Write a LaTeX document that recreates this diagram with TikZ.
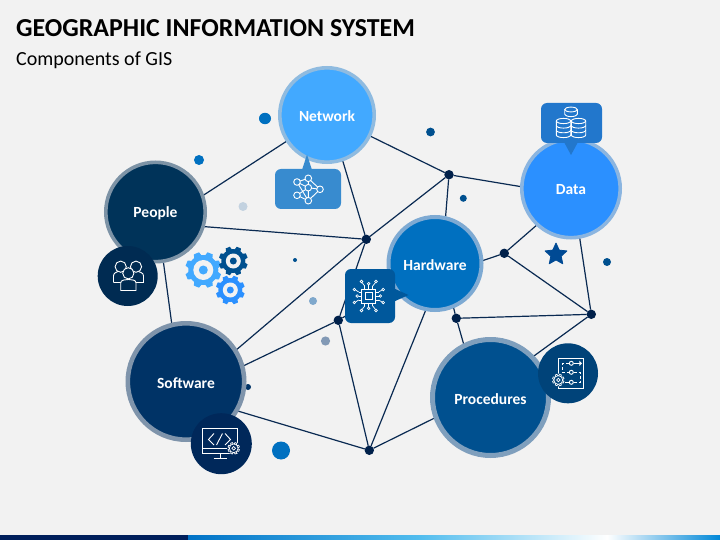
\documentclass[tikz,border=0pt]{standalone}
\usepackage{fontspec}
\setmainfont{Carlito}
\usetikzlibrary{shapes.geometric}
\pgfdeclarelayer{base}
\pgfdeclarelayer{edges}
\pgfsetlayers{base,edges,main}
\definecolor{pagebg}{HTML}{F2F2F2}
\definecolor{cNet}{HTML}{42A9FF}\definecolor{rNet}{HTML}{8FBBE0}
\definecolor{cPeo}{HTML}{003359}\definecolor{rPeo}{HTML}{7D93A6}
\definecolor{cDat}{HTML}{2B90FF}\definecolor{rDat}{HTML}{8BB5E0}
\definecolor{cHar}{HTML}{0070C0}\definecolor{rHar}{HTML}{7EAAD3}
\definecolor{cSof}{HTML}{003366}\definecolor{rSof}{HTML}{7F94AB}
\definecolor{cPro}{HTML}{00508F}\definecolor{rPro}{HTML}{7F9FBD}
\definecolor{iPeo}{HTML}{002B52}\definecolor{iSof}{HTML}{00285A}\definecolor{iPro}{HTML}{004379}
\definecolor{kNet}{HTML}{388BCF}\definecolor{kHar}{HTML}{00589C}\definecolor{kDat}{HTML}{2277CC}
\definecolor{wire}{HTML}{0A2A52}\definecolor{junc}{HTML}{00204A}
\definecolor{barnavy}{HTML}{001F5B}\definecolor{barA}{HTML}{0072C6}\definecolor{barB}{HTML}{52BDEE}\definecolor{barC}{HTML}{0088D8}
\definecolor{dotblue}{HTML}{0070C0}\definecolor{dotpale}{HTML}{C3D2E0}\definecolor{dotmid}{HTML}{7FA8CC}\definecolor{dotgrey}{HTML}{8299B5}
\definecolor{dotdeep}{HTML}{00508F}\definecolor{starblue}{HTML}{004A94}
\newcommand{\gearat}[6]{% x,y,outer,root,halfwidth,colour
  \begin{scope}[shift={(#1,#2)}]
    \fill[#6] (0,0) circle[radius=#4];
    \foreach \a in {0,45,...,315}
      \fill[#6,rotate=\a+22.5] (-#5,#4-1) -- (-#5*0.7,#3) -- (#5*0.7,#3) -- (#5,#4-1) -- cycle;
  \end{scope}}
\newcommand{\smallgear}[3]{% x,y,background
  \begin{scope}[shift={(#1,#2)}]
    \fill[#3] (0,0) circle[radius=6.5];
    \foreach \a in {0,45,...,315}
      \draw[iconline,line width=0.7pt,rotate=\a+22.5] (-1.2,4.2) -- (-0.9,5.8) -- (0.9,5.8) -- (1.2,4.2);
    \draw[iconline,line width=0.7pt] (0,0) circle[radius=4.4];
    \draw[iconline,line width=0.7pt] (0,0) circle[radius=1.8];
  \end{scope}}
\newcommand{\pin}[3]{% polyline end with pad
  \draw[iconline,line width=0.7pt] #1 -- #2;
  \draw[iconline,line width=0.7pt] #2 ++(#3) circle[radius=1.3];}
\newcommand{\hublabel}[1]{\raisebox{-1.2pt}[\height][\depth]{#1}}
\tikzset{
  x=1pt,y=-1pt,
  hub/.style={circle,inner sep=0pt,outer sep=0pt,text=white,font=\fontsize{15.5}{18}\selectfont\bfseries},
  junction/.style={circle,fill=junc,inner sep=0pt,outer sep=0pt,minimum size=9.4pt},
  wireline/.style={draw=wire,line width=1.2pt},
  iconline/.style={draw=white,line width=0.9pt},
  badge/.style={circle,inner sep=0pt,outer sep=0pt,minimum size=60pt},
  callout/.style={rectangle,rounded corners=6pt,inner sep=0pt,outer sep=0pt},
}
\begin{document}
\begin{tikzpicture}
\useasboundingbox (0,0) rectangle (720,540);
\begin{pgfonlayer}{base}
\fill[pagebg] (0,0) rectangle (720,540);
\fill[barnavy] (0,535) rectangle (188,540);
\shade[left color=barA,right color=barB] (188,535) rectangle (420,540);
\shade[left color=barB,right color=white] (420,535) rectangle (607,540);
\shade[left color=white,right color=barC] (607,535) rectangle (720,540);
\end{pgfonlayer}

\node[anchor=base west,inner sep=0pt,text=black,font=\fontsize{25.9}{30}\selectfont\bfseries] (title) at (16,36.7) {GEOGRAPHIC INFORMATION SYSTEM};
\node[anchor=base west,inner sep=0pt,text=black,font=\fontsize{20}{24}\selectfont] (subtitle) at (16,65.7) {Components of GIS};

% free dots
\fill[dotblue] (265,118.5) ellipse[x radius=6,y radius=5.7];
\fill[dotblue] (199,160) circle[radius=5];
\fill[dotpale] (243,206.5) circle[radius=4.5];
\fill[dotdeep] (295,260) circle[radius=2];
\fill[dotmid] (313,301) circle[radius=4];
\fill[dotgrey] (325.5,341) circle[radius=4.6];
\fill[cSof] (248,387) circle[radius=3];
\fill[dotblue] (281,450.5) circle[radius=9];
\fill[dotdeep] (430.5,132) circle[radius=4.4];
\fill[dotdeep] (463.3,198.3) circle[radius=3.5];
\fill[dotdeep] (607,262) circle[radius=4];
\node[star,star points=5,star point ratio=2.1,fill=starblue,draw=starblue,line join=round,line width=0.8pt,inner sep=0pt,minimum size=23pt] (starmark) at (556,254.5) {};

% gears
\gearat{203.3}{270}{18}{15}{4}{cNet}
\fill[pagebg] (203.3,270) circle[radius=10];
\fill[cNet] (203.3,270) circle[radius=4.5];
\gearat{233.3}{261}{14.5}{12}{3.2}{cPro}
\fill[pagebg] (233.3,261) circle[radius=7.5];
\fill[cPro] (233.3,261) circle[radius=3.5];
\gearat{230.3}{290}{14.5}{12}{3.2}{cDat}
\fill[pagebg] (230.3,290) circle[radius=7.5];
\fill[cDat] (230.3,290) circle[radius=3.5];

% hubs
\node[hub,fill=cNet,draw=rNet,line width=3.6pt,minimum size=94.4pt] (network) at (327,115) {\hublabel{Network}};
\node[hub,fill=cPeo,draw=rPeo,line width=3.6pt,minimum size=99.4pt] (people) at (155.5,212) {\hublabel{People}};
\node[hub,fill=cDat,draw=rDat,line width=3.6pt,minimum size=98.4pt] (data) at (571,188.5) {\hublabel{Data}};
\node[hub,fill=cHar,draw=rHar,line width=4pt,minimum size=93pt] (hardware) at (435,263.5) {\hublabel{Hardware}};
\node[hub,fill=cSof,draw=rSof,line width=4.6pt,minimum size=116.4pt] (software) at (186,381.5) {\hublabel{Software}};
\node[hub,fill=cPro,draw=rPro,line width=5pt,minimum size=116pt] (procedures) at (490.5,397.5) {\hublabel{Procedures}};

% junctions
\node[junction] (j1) at (449,174.7) {};
\node[junction] (j2) at (366.3,239.3) {};
\node[junction] (j3) at (504.3,253.3) {};
\node[junction] (j4) at (591.3,314.3) {};
\node[junction] (j5) at (456.3,318.3) {};
\node[junction] (j6) at (338.3,320.3) {};
\node[junction] (j7) at (369.3,450.3) {};

% connectors
\begin{pgfonlayer}{edges}
\draw[wireline] (network.213) -- (people.19);
\draw[wireline] (network.-71) -- (j2);
\draw[wireline] (network.-26) -- (j1);
\draw[wireline] (j1) -- (data.178);
\draw[wireline] (j1) -- (j2);
\draw[wireline] (j1) -- (hardware.77);
\draw[wireline] (people.-17.5) -- (j2);
\draw[wireline] (people.-81) -- (software.104);
\draw[wireline] (j2) -- (j6);
\draw[wireline] (j2) -- (software.32);
\draw[wireline] (j6) -- (software.15);
\draw[wireline] (j6) -- (hardware.210);
\draw[wireline] (j6) -- (j7);
\draw[wireline] (software.-30) -- (j7);
\draw[wireline] (hardware.259.6) -- (j7);
\draw[wireline] (hardware.-67.7) -- (j5);
\draw[wireline] (j5) -- (procedures.117);
\draw[wireline] (j5) -- (j4);
\draw[wireline] (hardware.3) -- (j3);
\draw[wireline] (j3) -- (data.227.7);
\draw[wireline] (j3) -- (j4);
\draw[wireline] (data.-80.5) -- (j4);
\draw[wireline] (j4) -- (procedures.44);
\draw[wireline] (procedures.200) -- (j7);
\end{pgfonlayer}

% callouts
\fill[kNet] (302,170) -- (307,154.5) -- (312,170) -- cycle;
\node[callout,fill=kNet,minimum width=66pt,minimum height=40pt] (netbox) at (308,189) {};
\fill[kHar] (393,288) -- (408.5,295) -- (393,302) -- cycle;
\node[callout,fill=kHar,minimum width=50pt,minimum height=54pt] (hardbox) at (370,296) {};
\fill[kDat] (564,142) -- (571,155) -- (578,142) -- cycle;
\node[callout,fill=kDat,minimum width=61pt,minimum height=40pt] (databox) at (571.5,123) {};

% badges
\node[badge,fill=iPeo] (peoplebadge) at (127.7,276) {};
\node[badge,fill=iSof,minimum size=61pt] (softbadge) at (221.3,443.7) {};
\node[badge,fill=iPro] (procbadge) at (568,373.3) {};

% network icon
\draw[iconline] (297,182) -- (308.3,187.7) -- (297,195.3);
\draw[iconline] (308.3,178.3) -- (308.3,187.7) -- (320,189.3) -- (308.3,178.3);
\draw[iconline] (308.3,187.7) -- (308.3,200.7) -- (320,189.3);
\draw[iconline] (297,182) -- (308.3,200.7);
\draw[iconline] (297,195.3) -- (308.3,200.7);
\draw[iconline] (297,182) -- (308.3,178.3);
\foreach \p in {(297,182),(308.3,178.3),(308.3,187.7),(297,195.3),(320,189.3),(308.3,200.7)}
  \draw[iconline,fill=kNet] \p circle[radius=3.3];

% chip icon
\draw[iconline] (361.7,289) rectangle (375.7,303);
\draw[iconline] (365,292.3) rectangle (372.4,299.7);
\foreach \d in {-4,0,4}{
  \draw[iconline,line width=0.7pt] (368.7+\d,289) -- (368.7+\d,286);
  \draw[iconline,line width=0.7pt] (368.7+\d,303) -- (368.7+\d,306);
  \draw[iconline,line width=0.7pt] (361.7,296+\d) -- (358.7,296+\d);
  \draw[iconline,line width=0.7pt] (375.7,296+\d) -- (378.7,296+\d);
}
\pin{(364.7,286)}{(362,282.5)}{-0.5,-1}
\pin{(372.7,286)}{(375.5,282.5)}{0.5,-1}
\pin{(368.7,286)}{(368.7,285)}{0,-1.3}
\pin{(364.7,306)}{(362,309.5)}{-0.5,1}
\pin{(372.7,306)}{(375.5,309.5)}{0.5,1}
\pin{(368.7,306)}{(368.7,307)}{0,1.3}
\pin{(358.7,292)}{(355.5,290)}{-1.2,-0.5}
\pin{(358.7,296)}{(358.5,296)}{-1.3,0}
\pin{(358.7,300)}{(355.5,302)}{-1.2,0.5}
\pin{(378.7,292)}{(382,290)}{1.2,-0.5}
\pin{(378.7,296)}{(379,296)}{1.3,0}
\pin{(378.7,300)}{(382,302)}{1.2,0.5}

% database icon
\draw[iconline,fill=kDat] (564.7,109.5) -- (564.7,114.2) arc[start angle=180,end angle=0,x radius=6.3,y radius=2.4] -- (577.3,109.5);
\draw[iconline,fill=kDat] (571,109.5) ellipse[x radius=6.3,y radius=2.4];
\foreach \cx in {563.5, 578.5}{
  \draw[iconline,fill=kDat] (\cx-7.2,121) -- (\cx-7.2,135) arc[start angle=180,end angle=0,x radius=7.2,y radius=2.6] -- (\cx+7.2,121);
  \draw[iconline,fill=kDat] (\cx,121) ellipse[x radius=7.2,y radius=2.6];
  \draw[iconline] (\cx-7.2,125.5) arc[start angle=180,end angle=0,x radius=7.2,y radius=2.6];
  \draw[iconline] (\cx-7.2,130.2) arc[start angle=180,end angle=0,x radius=7.2,y radius=2.6];
}

% people icon
\draw[iconline] (113.5,282.5) -- (113.5,276) .. controls (113.5,272.5) and (116.5,272.5) .. (118,271.5);
\draw[iconline] (113.5,282.5) -- (120.7,282.5);
\draw[iconline] (143.5,282.5) -- (143.5,276) .. controls (143.5,272.5) and (140,272.5) .. (138.5,271.5);
\draw[iconline] (143.5,282.5) -- (136,282.5);
\draw[iconline] (120.7,266.7) circle[radius=5.6];
\draw[iconline] (136,266.7) circle[radius=5.6];
\draw[iconline,fill=iPeo] (120.7,290.5) -- (120.7,283) .. controls (120.7,279.5) and (125,280) .. (128.3,279.5) .. controls (132,280) and (136,279.5) .. (136,283) -- (136,290.5) -- cycle;
\draw[iconline,fill=iPeo] (128.3,273.3) circle[radius=5.6];

% software icon
\draw[iconline] (202.3,428.3) rectangle (237.7,453.3);
\draw[iconline] (202.3,448.3) -- (237.7,448.3);
\draw[iconline] (220,453.3) -- (220,458.3);
\draw[iconline] (213.5,458.5) -- (226.5,458.5);
\draw[iconline] (214,433.5) -- (208.5,439.5) -- (214,445);
\draw[iconline] (222.5,433.5) -- (216.5,445);
\draw[iconline] (225,433.5) -- (230.5,439.5) -- (225,445);
\smallgear{233.7}{448.3}{iSof}

% procedures icon
\draw[iconline] (558.3,358.3) -- (583.7,358.3) -- (583.7,388.3) -- (558.3,388.3) -- (558.3,384);
\draw[iconline] (558.3,375) -- (558.3,358.3);
\draw[iconline,fill=iPro] (571.3,363.3) circle[radius=2];
\draw[iconline,fill=iPro] (571.3,372.3) circle[radius=2];
\draw[iconline,fill=iPro] (571.3,382.3) circle[radius=2];
\draw[iconline,densely dashed] (569,363.3) -- (562.5,363.3) -- (562.5,372.3) -- (569,372.3);
\draw[iconline,densely dashed] (573.6,372.3) -- (580.3,372.3) -- (580.3,382.3) -- (573.6,382.3);
\draw[iconline] (569,382.3) -- (565,382.3);
\draw[iconline] (573.6,363.3) -- (580.5,363.3);
\fill[white] (582,363.3) -- (579.3,360.6) -- (579.3,366) -- cycle;
\smallgear{558.3}{380}{iPro}
\end{tikzpicture}
\end{document}
